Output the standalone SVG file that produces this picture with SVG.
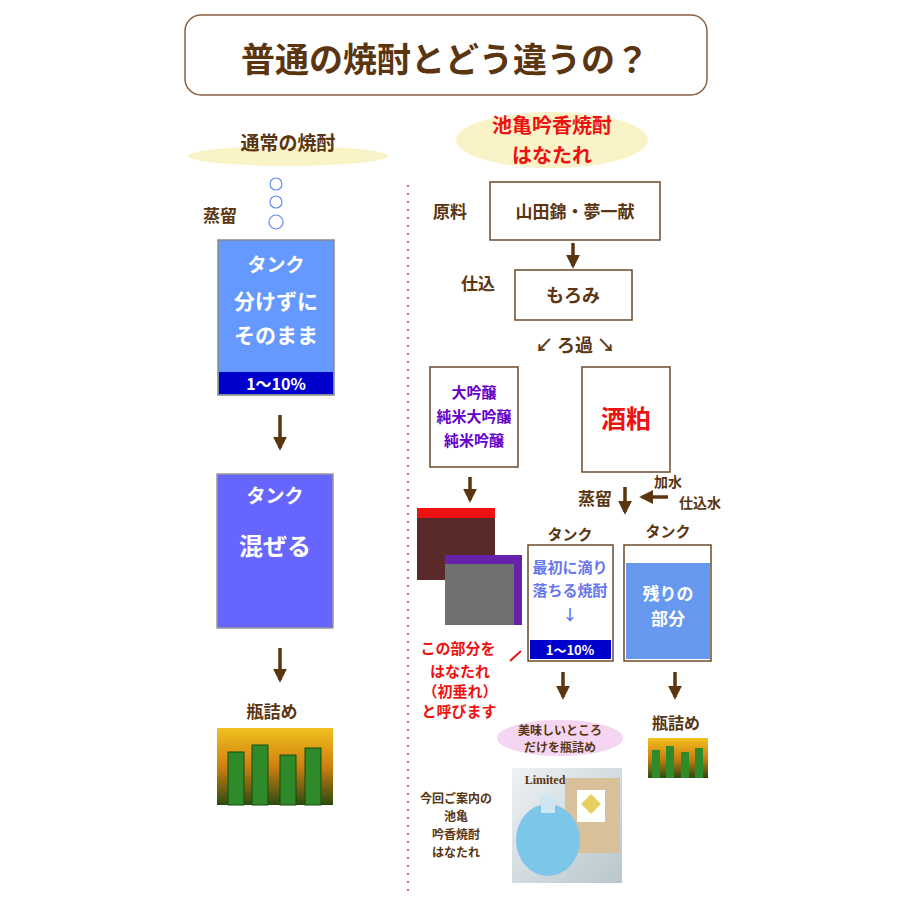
<svg xmlns="http://www.w3.org/2000/svg" width="900" height="900" viewBox="0 0 900 900">
<defs>
<style>
text{font-family:"Noto Sans CJK JP","Noto Sans",sans-serif;font-weight:bold;text-anchor:middle}
.br{fill:#5a3510}
.w{fill:#fff}
.box{fill:#fff;stroke:#6b4a2a;stroke-width:1.5}
.ar{stroke:#5a3510;stroke-width:3.5;fill:none}
.rd{fill:#ee1111}
</style>
<marker id="ah" viewBox="0 0 10 10" refX="8" refY="5" markerWidth="4" markerHeight="4" orient="auto"><path d="M0,0 L10,5 L0,10 Z" fill="#5a3510"/></marker>
<linearGradient id="bot" x1="0" y1="0" x2="0" y2="1"><stop offset="0" stop-color="#f0c020"/><stop offset="0.5" stop-color="#d08010"/><stop offset="1" stop-color="#2a4a10"/></linearGradient>
<linearGradient id="pic" x1="0" y1="0" x2="1" y2="1"><stop offset="0" stop-color="#eef2f4"/><stop offset="1" stop-color="#b8c6cc"/></linearGradient>
</defs>
<rect width="900" height="900" fill="#fff"/>
<g id="title"><rect x="185" y="15" width="522" height="80" rx="16" fill="#fff" stroke="#8a6040" stroke-width="1.5"/><text x="445" y="72" font-size="34" class="br">普通の焼酎とどう違うの？</text></g>
<line x1="408" y1="185" x2="408" y2="895" stroke="#c07090" stroke-width="2" stroke-dasharray="2,6"/>
<g id="left-head"><ellipse cx="288" cy="156" rx="100" ry="10" fill="#fbf3c8"/><text x="288" y="150" font-size="19" class="br">通常の焼酎</text></g>
<g id="bubbles" fill="none" stroke="#6688ee" stroke-width="1.2"><circle cx="276" cy="184" r="6"/><circle cx="276" cy="202" r="6"/><circle cx="276" cy="222" r="7"/></g>
<text x="220" y="222" font-size="17" class="br">蒸留</text>
<g id="tank1"><rect x="218" y="240" width="116" height="155" fill="#6699ff" stroke="#888" stroke-width="1.5"/><rect x="219" y="372" width="114" height="22" fill="#0000cc"/><text x="276" y="272" font-size="19" class="w">タンク</text><text x="276" y="309" font-size="21" class="w">分けずに</text><text x="276" y="343" font-size="21" class="w">そのまま</text><text x="276" y="390" font-size="16" class="w" font-weight="normal">1〜10%</text></g>
<g id="tank2"><rect x="217" y="474" width="116" height="154" fill="#6666ff" stroke="#999" stroke-width="1.5"/><text x="275" y="503" font-size="19" class="w">タンク</text><text x="275" y="555" font-size="24" class="w">混ぜる</text></g>
<text x="272" y="718" font-size="17" class="br">瓶詰め</text>
<g id="bottles1"><rect x="217" y="728" width="116" height="77" fill="url(#bot)"/><g fill="#2f8a2a" stroke="#1a4a10"><rect x="228" y="752" width="16" height="53"/><rect x="252" y="745" width="16" height="60"/><rect x="280" y="755" width="16" height="50"/><rect x="305" y="748" width="16" height="57"/></g></g>
<g id="right-head"><ellipse cx="552" cy="140" rx="96" ry="28" fill="#fbf3c8"/><text x="552" y="133" font-size="20" class="rd">池亀吟香焼酎</text><text x="552" y="163" font-size="20" class="rd">はなたれ</text></g>
<text x="450" y="218" font-size="17" class="br">原料</text>
<g id="genryo"><rect x="490" y="182" width="170" height="58" class="box"/><text x="575" y="218" font-size="17" class="br">山田錦・夢一献</text></g>
<text x="478" y="290" font-size="17" class="br">仕込</text>
<g id="moromi"><rect x="515" y="270" width="117" height="50" class="box"/><text x="573" y="302" font-size="18" class="br">もろみ</text></g>
<text x="575" y="352" font-size="18" class="br">↙ ろ過 ↘</text>
<g id="ginjo"><rect x="430" y="367" width="88" height="100" class="box"/><g fill="#6600cc" font-size="15"><text x="474" y="398">大吟醸</text><text x="474" y="422">純米大吟醸</text><text x="474" y="446">純米吟醸</text></g></g>
<g id="kasu"><rect x="582" y="367" width="88" height="105" class="box"/><text x="626" y="428" font-size="25" class="rd">酒粕</text></g>
<text x="668" y="487" font-size="14" class="br">加水</text><text x="700" y="508" font-size="14" class="br">仕込水</text>
<text x="595" y="505" font-size="17" class="br">蒸留</text>
<g id="photos"><rect x="417" y="508" width="78" height="72" fill="#5a2a2a"/><rect x="417" y="508" width="78" height="10" fill="#ee1111"/><rect x="445" y="555" width="77" height="70" fill="#707070"/><rect x="445" y="555" width="77" height="9" fill="#6622aa"/><rect x="514" y="564" width="8" height="61" fill="#6622aa"/></g>
<text x="570" y="540" font-size="15" class="br">タンク</text><text x="668" y="537" font-size="15" class="br">タンク</text>
<g id="tank3"><rect x="528" y="545" width="85" height="116" class="box"/><g fill="#6677ee" font-size="15"><text x="570" y="573">最初に滴り</text><text x="570" y="596">落ちる焼酎</text><text x="570" y="620">↓</text></g><rect x="530" y="640" width="81" height="19" fill="#0000cc"/><text x="570" y="655" font-size="13" class="w" font-weight="normal">1〜10%</text></g>
<g id="tank4"><rect x="624" y="545" width="87" height="116" class="box"/><rect x="626" y="563" width="84" height="96" fill="#6699ee"/><text x="668" y="600" font-size="17" class="w">残りの</text><text x="668" y="625" font-size="17" class="w">部分</text></g>
<g id="hanatare-note" font-size="15" class="rd"><text x="458" y="654">この部分を</text><text x="460" y="677">はなたれ</text><text x="460" y="697">（初垂れ）</text><text x="459" y="717">と呼びます</text></g>
<g id="umai"><ellipse cx="560" cy="738" rx="63" ry="18" fill="#f5d6f2"/><text x="560" y="735" font-size="12" class="br">美味しいところ</text><text x="560" y="752" font-size="12" class="br">だけを瓶詰め</text></g>
<text x="676" y="729" font-size="16" class="br">瓶詰め</text>
<g id="bottles2"><rect x="648" y="738" width="60" height="40" fill="url(#bot)"/><g fill="#2f8a2a"><rect x="652" y="750" width="8" height="28"/><rect x="666" y="746" width="8" height="32"/><rect x="681" y="752" width="8" height="26"/><rect x="695" y="748" width="8" height="30"/></g></g>
<g id="kaisetsu" font-size="12" class="br"><text x="456" y="803">今回ご案内の</text><text x="456" y="821">池亀</text><text x="456" y="839">吟香焼酎</text><text x="456" y="857">はなたれ</text></g>
<g id="product"><rect x="512" y="768" width="110" height="115" fill="url(#pic)"/><rect x="565" y="778" width="55" height="75" fill="#d8c09a"/><rect x="577" y="790" width="28" height="32" fill="#fff"/><rect x="584" y="797" width="14" height="14" fill="#e6d060" transform="rotate(45 591 804)"/><ellipse cx="548" cy="840" rx="32" ry="36" fill="#7cc6ea"/><rect x="541" y="795" width="14" height="18" fill="#cfe6f2"/><text x="545" y="784" font-size="12" fill="#5a3510" style="font-family:'Liberation Serif',serif">Limited</text></g>
<g id="connectors" class="ar">
<path d="M280 415 V448" marker-end="url(#ah)"/>
<path d="M280 648 V680" marker-end="url(#ah)"/>
<path d="M573 243 V266" marker-end="url(#ah)"/>
<path d="M470 477 V500" marker-end="url(#ah)"/>
<path d="M625 487 V512" marker-end="url(#ah)"/>
<path d="M668 497 H642" marker-end="url(#ah)"/>
<path d="M563 672 V697" marker-end="url(#ah)"/>
<path d="M675 672 V697" marker-end="url(#ah)"/>
<path d="M510 661 L521 651" stroke="#ee1111" stroke-width="2"/>
</g>
</svg>
